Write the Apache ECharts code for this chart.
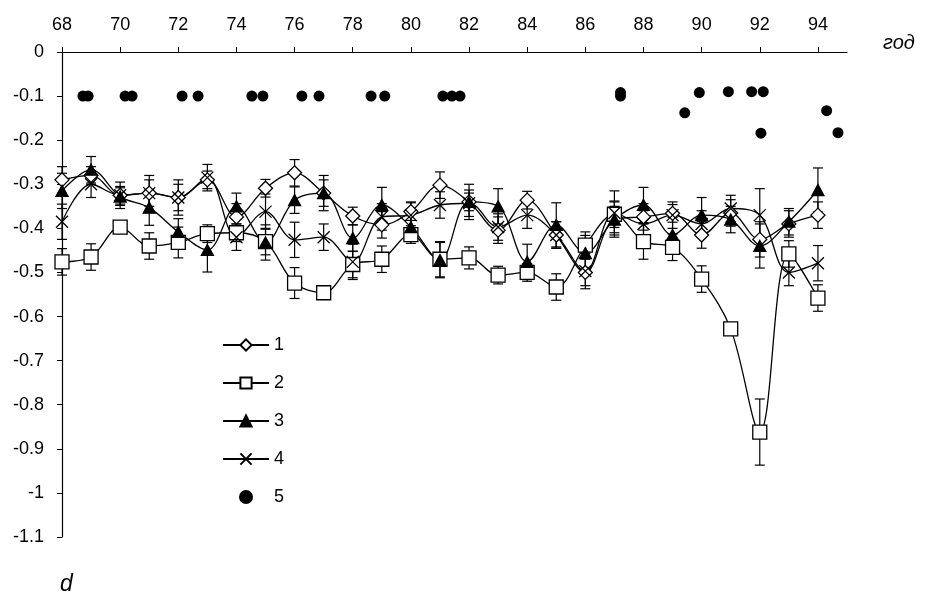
<!DOCTYPE html>
<html>
<head>
<meta charset="utf-8">
<script src="https://cdn.jsdelivr.net/npm/echarts@6/dist/echarts.min.js"></script>
<style>
  html, body { margin: 0; padding: 0; background: #fff; }
  #main { width: 927px; height: 603px; }
</style>
</head>
<body>
<div id="main"></div>
<script>
// years on the x axis
var years = [68,69,70,71,72,73,74,75,76,77,78,79,80,81,82,83,84,85,86,87,88,89,90,91,92,93,94];
var xTicks = [68,70,72,74,76,78,80,82,84,86,88,90,92,94];

// series values (d)
var s1 = [-0.29,-0.28,-0.325,-0.32,-0.33,-0.29,-0.374,-0.309,-0.274,-0.32,-0.372,-0.392,-0.362,-0.302,-0.34,-0.404,-0.336,-0.415,-0.5,-0.38,-0.374,-0.366,-0.415,-0.365,-0.425,-0.39,-0.37];
var s2 = [-0.476,-0.465,-0.397,-0.44,-0.432,-0.412,-0.41,-0.43,-0.524,-0.546,-0.482,-0.47,-0.414,-0.47,-0.467,-0.506,-0.5,-0.533,-0.438,-0.368,-0.43,-0.443,-0.515,-0.628,-0.862,-0.458,-0.558];
var s3 = [-0.315,-0.267,-0.328,-0.353,-0.408,-0.449,-0.35,-0.432,-0.336,-0.32,-0.422,-0.347,-0.397,-0.472,-0.34,-0.35,-0.476,-0.392,-0.456,-0.38,-0.347,-0.415,-0.37,-0.38,-0.44,-0.385,-0.313];
var s4 = [-0.385,-0.3,-0.325,-0.32,-0.33,-0.285,-0.42,-0.362,-0.426,-0.42,-0.476,-0.374,-0.37,-0.347,-0.343,-0.397,-0.37,-0.415,-0.497,-0.365,-0.39,-0.37,-0.39,-0.355,-0.37,-0.5,-0.479];

// error bar half widths
var e1 = [0.03,0.02,0.02,0.03,0.03,0.02,0.03,0.02,0.03,0.03,0.02,0.03,0.02,0.03,0.02,0.03,0.02,0.03,0.03,0.03,0.03,0.02,0.03,0.03,0.04,0.03,0.03];
var e2 = [0.03,0.03,0.01,0.03,0.035,0.02,0.02,0.03,0.035,0.01,0.03,0.03,0.02,0.04,0.025,0.02,0.02,0.03,0.03,0.03,0.04,0.03,0.03,0.01,0.075,0.03,0.03];
var e3 = [0.04,0.03,0.02,0.04,0.03,0.05,0.03,0.04,0.03,0.04,0.03,0.04,0.03,0.04,0.04,0.04,0.04,0.05,0.04,0.04,0.04,0.04,0.04,0.03,0.05,0.03,0.05];
var e4 = [0.04,0.03,0.03,0.04,0.04,0.03,0.03,0.04,0.04,0.03,0.04,0.03,0.03,0.03,0.03,0.03,0.03,0.03,0.04,0.05,0.03,0.03,0.03,0.03,0.06,0.03,0.04];

// series 5 (dots)
var dotYears  = [68.72,68.9,70.17,70.41,72.13,72.68,74.53,74.91,76.25,76.84,78.63,79.1,81.1,81.41,81.69,87.21,87.21,89.42,89.92,90.92,91.72,92.12,92.04,94.3,94.69];
var dotValues = [-0.1,-0.1,-0.1,-0.1,-0.1,-0.1,-0.1,-0.1,-0.1,-0.1,-0.1,-0.1,-0.1,-0.1,-0.1,-0.092,-0.1,-0.138,-0.092,-0.09,-0.09,-0.09,-0.184,-0.133,-0.183];

var FONT = 'Liberation Sans, Arial, sans-serif';

function pairs(xs, ys) {
	var out = [];
	for (var i = 0; i < xs.length; i++) out.push([xs[i], ys[i]]);
	return out;
}

function errData(vals, errs) {
	var out = [];
	for (var i = 0; i < years.length; i++) out.push([years[i], vals[i] - errs[i], vals[i] + errs[i]]);
	return out;
}

function renderErr(params, api) {
	var x = api.value(0);
	var lo = api.coord([x, api.value(1)]);
	var hi = api.coord([x, api.value(2)]);
	var w = 5;
	var st = { stroke: '#000', lineWidth: 1.2 };
	return {
		type: 'group',
		children: [
			{ type: 'line', shape: { x1: lo[0], y1: lo[1], x2: hi[0], y2: hi[1] }, style: st },
			{ type: 'line', shape: { x1: lo[0] - w, y1: lo[1], x2: lo[0] + w, y2: lo[1] }, style: st },
			{ type: 'line', shape: { x1: hi[0] - w, y1: hi[1], x2: hi[0] + w, y2: hi[1] }, style: st }
		]
	};
}

function errSeries(name, vals, errs) {
	return {
		name: name,
		type: 'custom',
		renderItem: renderErr,
		data: errData(vals, errs),
		z: 1,
		silent: true
	};
}

function lineSeries(name, vals, symbol, size, fill) {
	return {
		name: name,
		type: 'line',
		data: pairs(years, vals),
		symbol: symbol,
		symbolSize: size,
		showAllSymbol: true,
		smooth: 0.35,
		z: 3,
		lineStyle: { color: '#000', width: 1.3 },
		itemStyle: { color: fill, borderColor: '#000', borderWidth: 1.3 }
	};
}

var myChart = echarts.init(document.getElementById('main'));

var option = {
	backgroundColor: '#fff',
	animation: false,
	textStyle: { fontFamily: FONT },
	grid: { left: 62, right: 80, top: 52, bottom: 66 },
	legend: {
		orient: 'vertical',
		left: 217,
		top: 331,
		itemWidth: 46,
		itemHeight: 14,
		itemGap: 20,
		textStyle: { fontSize: 18, color: '#000', fontFamily: FONT },
		data: ['1', '2', '3', '4', '5']
	},
	xAxis: {
		type: 'value',
		position: 'top',
		min: 68,
		max: 95,
		interval: 2,
		splitLine: { show: false },
		axisLine: { lineStyle: { color: '#000', width: 1.2 } },
		axisTick: { show: true, length: 5, customValues: xTicks, lineStyle: { color: '#000' } },
		axisLabel: { customValues: xTicks, margin: 18, fontSize: 18, color: '#000', fontFamily: FONT }
	},
	yAxis: {
		type: 'value',
		min: -1.1,
		max: 0,
		interval: 0.1,
		splitLine: { show: false },
		axisLine: { show: true, lineStyle: { color: '#000', width: 1.2 } },
		axisTick: { show: true, length: 5, lineStyle: { color: '#000' } },
		axisLabel: { margin: 18, fontSize: 18, color: '#000', fontFamily: FONT }
	},
	graphic: [
		{ type: 'text', left: 883, top: 33, style: { text: 'год', fontSize: 20, fontStyle: 'italic', fill: '#000', fontFamily: FONT } },
		{ type: 'text', left: 60, top: 573, style: { text: 'd', fontSize: 23, fontStyle: 'italic', fill: '#000', fontFamily: FONT } }
	],
	series: [
		errSeries('e1', s1, e1),
		errSeries('e2', s2, e2),
		errSeries('e3', s3, e3),
		errSeries('e4', s4, e4),
		lineSeries('1', s1, 'diamond', 14, '#fff'),
		lineSeries('2', s2, 'rect', 14, '#fff'),
		lineSeries('3', s3, 'triangle', [12, 11], '#000'),
		lineSeries('4', s4, 'path://M0,0L10,10M10,0L0,10', 12, '#000'),
		{
			name: '5',
			type: 'scatter',
			data: pairs(dotYears, dotValues),
			symbol: 'circle',
			symbolSize: 11,
			z: 4,
			itemStyle: { color: '#000', opacity: 1 }
		}
	]
};

myChart.setOption(option);
</script>
</body>
</html>
